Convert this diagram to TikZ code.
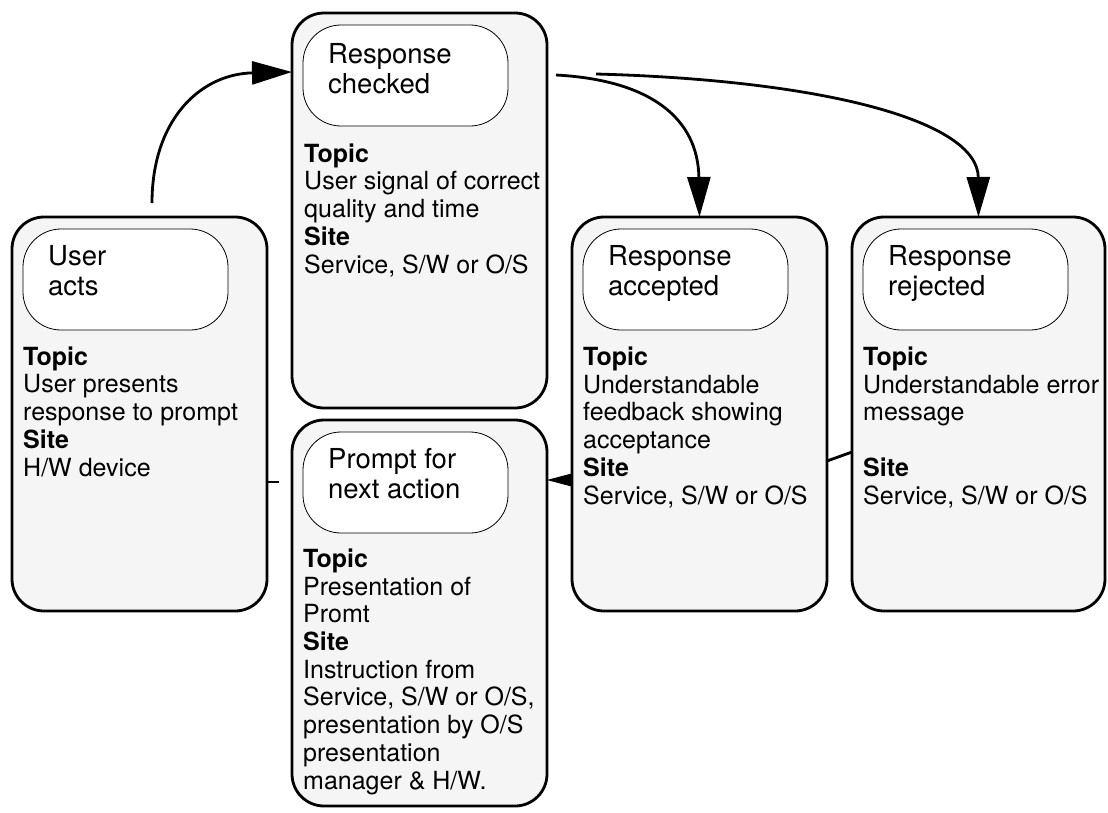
\documentclass[tikz,border=0pt]{standalone}
\usepackage{fontspec}
\setmainfont{TeX Gyre Heros}
\usetikzlibrary{arrows.meta}
\definecolor{panelgray}{HTML}{F5F5F5}
\begin{document}
\begin{tikzpicture}[x=1pt,y=-1pt,
  stage/.style={draw, line width=2.8pt, fill=panelgray, rounded corners=32pt,
    anchor=north west, inner sep=0pt, outer sep=0pt,
    minimum width=255pt, minimum height=394pt},
  namebox/.style={draw, line width=0.8pt, fill=white, rounded corners=38pt,
    anchor=north west, inner sep=0pt, outer sep=0pt,
    minimum width=205pt, minimum height=101pt},
  % multi-line text nodes are placed by the baseline of their last line
  title/.style={anchor=base west, align=left, inner sep=0pt,
    font=\fontsize{27.5pt}{30pt}\selectfont},
  body/.style={anchor=base west, align=left, inner sep=0pt,
    font=\fontsize{25pt}{27.7pt}\selectfont},
  flow/.style={line width=2.8pt, -{Triangle[length=40pt,width=23pt]}},
  link/.style={line width=2.8pt}
]
\useasboundingbox (0,0) rectangle (1108,812);

% outer stage panels
\node[stage] (acts)     at (12,217) {};
\node[stage, minimum height=395pt] (checked) at (292,13) {};
\node[stage, minimum height=386pt] (prompt)  at (292,420) {};
\node[stage] (accepted) at (572,217) {};
\node[stage, minimum width=253pt] (rejected) at (852,217) {};

% white name boxes
\node[namebox] (actsN)     at (23,229) {};
\node[namebox] (checkedN)  at (303,25) {};
\node[namebox] (promptN)   at (303,432) {};
\node[namebox] (acceptedN) at (583,229) {};
\node[namebox] (rejectedN) at (863,229) {};

% stage names
\node[title] (actsT)     at (48,295)  {User\\acts};
\node[title] (checkedT)  at (328,93)  {Response\\checked};
\node[title] (promptT)   at (328,498) {Prompt for\\next action};
\node[title] (acceptedT) at (608,295) {Response\\accepted};
\node[title] (rejectedT) at (888,295) {Response\\rejected};

% topic / site descriptions
\node[body] (actsB) at (23,476) {\textbf{Topic}\\User presents\\response to prompt\\\textbf{Site}\\H/W device};
\node[body] (checkedB) at (304,273) {\textbf{Topic}\\User signal of correct\\quality and time\\\textbf{Site}\\Service, S/W or O/S};
\node[body] (promptB) at (303,789) {\textbf{Topic}\\Presentation of\\Promt\\\textbf{Site}\\Instruction from\\Service, S/W or O/S,\\presentation by O/S\\presentation\\manager \& H/W.};
\node[body] (acceptedB) at (583,504) {\textbf{Topic}\\Understandable\\feedback showing\\acceptance\\\textbf{Site}\\Service, S/W or O/S};
\node[body] (rejectedB) at (863,504) {\textbf{Topic}\\Understandable error\\message\\[27.7pt]\textbf{Site}\\Service, S/W or O/S};

% connector end points
\coordinate (actsOut)  at (152,203);
\path (checked.north west) ++(0,59) coordinate (checkedIn);
\coordinate (outA) at (556,75);
\coordinate (outR) at (596,74);
\coordinate (lvlP) at (0,480);
\coordinate (lvlR) at (0,452);
\coordinate (lvlA) at (0,461);
\coordinate (lvlS) at (0,482);

% transitions
\draw[flow] (actsOut) .. controls (152,120) and (200,74) .. (checkedIn);
\draw[flow] (outA) .. controls (650,80) and (698,118) .. (accepted.north);
\draw[flow] (outR) .. controls (820,80) and (978,120) .. (rejected.north);
\draw[line width=0.8pt, -{Triangle[length=25pt,width=13pt]}]
  (accepted.west |- lvlP) -- (prompt.east |- lvlP);
\draw[link] (rejected.west |- lvlR) -- (accepted.east |- lvlA);
\draw[link] (acts.east |- lvlS) -- ++(12,0) coordinate (stubEnd);
\end{tikzpicture}
\end{document}
